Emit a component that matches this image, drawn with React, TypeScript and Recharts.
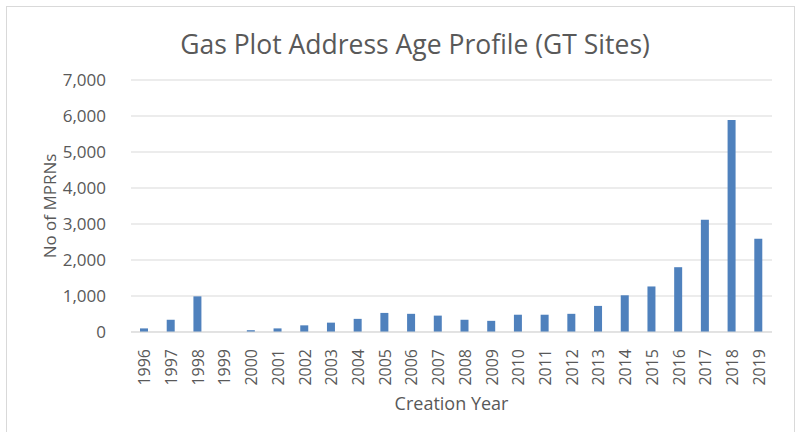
import React from 'react'
import { BarChart, Bar, XAxis, YAxis, CartesianGrid } from 'recharts'

const years = [
  '1996', '1997', '1998', '1999', '2000', '2001', '2002', '2003',
  '2004', '2005', '2006', '2007', '2008', '2009', '2010', '2011',
  '2012', '2013', '2014', '2015', '2016', '2017', '2018', '2019',
]
const mprns = [
  100, 340, 990, 0, 50, 100, 185, 260,
  365, 530, 505, 455, 340, 310, 480, 480,
  505, 725, 1020, 1265, 1800, 3120, 5890, 2590,
]
const yTicks = [0, 1000, 2000, 3000, 4000, 5000, 6000, 7000]

const data = years.map((year, i) => ({ year, value: mprns[i] }))

const FONT = '"Open Sans", "Noto Sans", sans-serif'
const TEXT = '#595959'

// 年份标签竖排
const YearTick = (props: any) => {
  const { x, y, payload } = props
  return (
    <text
      x={x + 6}
      y={y + 9}
      transform={`rotate(-90, ${x + 6}, ${y + 9})`}
      textAnchor="end"
      fill={TEXT}
      fontSize={16}
      fontFamily={FONT}
    >
      {payload.value}
    </text>
  )
}

export default function App() {
  return (
    <div
      style={{
        position: 'absolute',
        left: 0,
        top: 0,
        width: 798,
        height: 432,
        background: '#fff',
        fontFamily: FONT,
      }}
    >
      <div
        style={{
          position: 'absolute',
          left: 6,
          top: 6,
          width: 789,
          height: 440,
          border: '1px solid #d9d9d9',
          boxSizing: 'border-box',
        }}
      />
      <div
        style={{
          position: 'absolute',
          left: 0,
          top: 26,
          width: 830,
          textAlign: 'center',
          fontSize: 26.5,
          lineHeight: '36px',
          color: TEXT,
        }}
      >
        Gas Plot Address Age Profile (GT Sites)
      </div>
      <div style={{ position: 'absolute', left: 0, top: 0 }}>
        <BarChart
          width={798}
          height={432}
          data={data}
          margin={{ top: 80, right: 26, bottom: 0, left: 0 }}
        >
          <CartesianGrid vertical={false} stroke="#d9d9d9" />
          <XAxis
            dataKey="year"
            interval={0}
            height={100}
            tickLine={false}
            axisLine={{ stroke: '#d9d9d9' }}
            tick={<YearTick />}
            label={{
              value: 'Creation Year',
              position: 'insideBottom',
              offset: 22,
              fill: TEXT,
              fontSize: 18,
              fontFamily: FONT,
            }}
          />
          <YAxis
            width={131}
            domain={[0, 7000]}
            ticks={yTicks}
            tickLine={false}
            axisLine={false}
            tickMargin={19}
            tickFormatter={(v: number) => v.toLocaleString('en-US')}
            tick={{ fill: TEXT, fontSize: 17, fontFamily: FONT }}
            label={{
              value: 'No of MPRNs',
              angle: -90,
              position: 'insideLeft',
              offset: 50,
              fill: TEXT,
              fontSize: 17,
              fontFamily: FONT,
              style: { textAnchor: 'middle' },
            }}
          />
          <Bar dataKey="value" fill="#4f81bd" barSize={8} isAnimationActive={false} />
        </BarChart>
      </div>
    </div>
  )
}
